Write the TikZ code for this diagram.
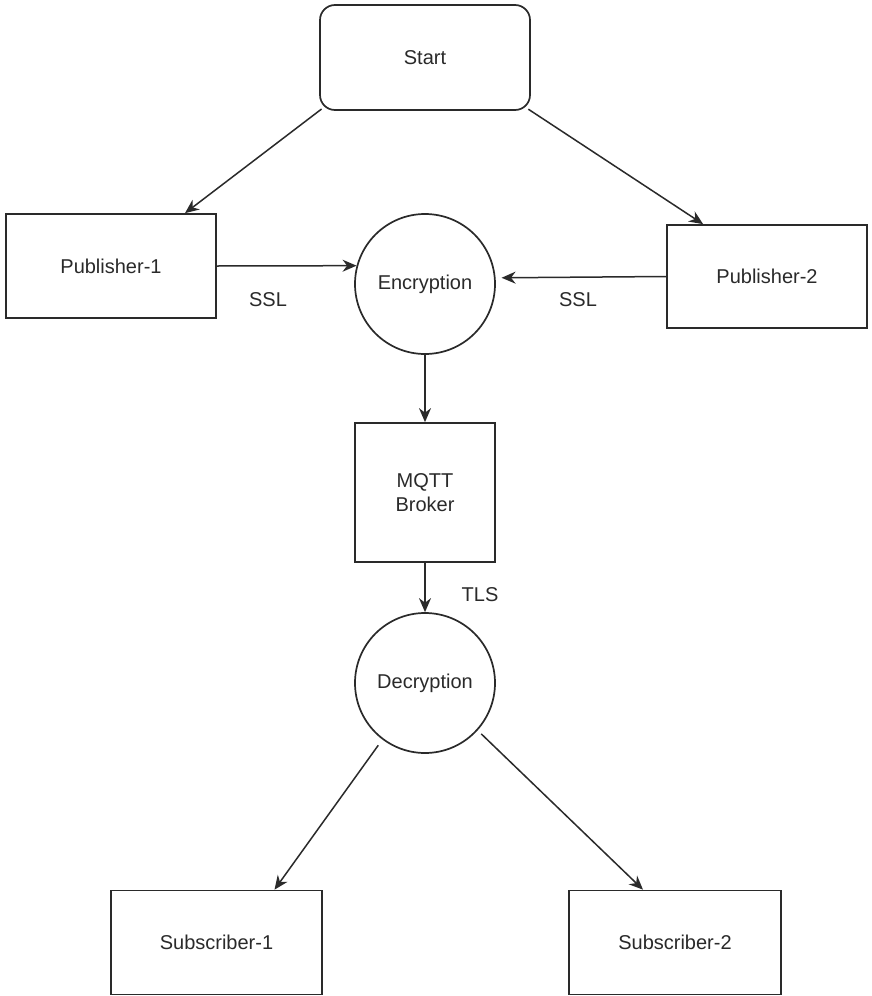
\documentclass[tikz,border=0pt]{standalone}
\usepackage{fontspec}
\setmainfont{Liberation Sans}
\usetikzlibrary{arrows.meta,calc}
\definecolor{ink}{HTML}{2A2A2A}
\tikzset{
  box/.style={draw=ink, line width=1.7pt, rectangle, fill=white, text=ink, font=\fontsize{20}{24}\selectfont, align=center, inner sep=0pt},
  roundbox/.style={box, rounded corners=15pt},
  circ/.style={draw=ink, line width=1.7pt, circle, minimum size=140pt, text=ink, font=\fontsize{20}{24}\selectfont, inner sep=0pt},
  conn/.style={draw=ink, line width=1.5pt, -{Stealth[length=14pt,width=12pt]}},
  lbl/.style={text=ink, font=\fontsize{20}{24}\selectfont}
}
\begin{document}
\begin{tikzpicture}[x=1pt,y=-1pt]
\fill[white] (0,0) rectangle (871,996);
\useasboundingbox (0,0) rectangle (871,996);
\node[roundbox, minimum width=210pt, minimum height=105pt] (start) at (425,57.5) {Start};
\node[box, minimum width=210pt, minimum height=104pt] (p1) at (111,266) {Publisher-1};
\node[box, minimum width=200pt, minimum height=103pt] (p2) at (767,276.5) {Publisher-2};
\node[circ] (enc) at (425,284) {Encryption};
\node[box, minimum width=140pt, minimum height=139pt] (mqtt) at (425,492.5) {MQTT\\Broker};
\node[circ] (dec) at (425,683) {Decryption};
\node[box, minimum width=211pt, minimum height=104pt] (s1) at (216.5,942.5) {Subscriber-1};
\node[box, minimum width=212pt, minimum height=104pt] (s2) at (675,942.5) {Subscriber-2};
\node[lbl] (ssl1) at (268,300) {SSL};
\node[lbl] (ssl2) at (578,300) {SSL};
\node[lbl] (tls) at (480,595) {TLS};
\draw[conn, shorten <=-3pt] (start.south west) -- ($(p1.north)+(74,0)$);
\draw[conn, shorten <=-3pt] (start.south east) -- ($(p2.north west)+(37,0)$);
\draw[conn] (p1.east) -- (enc.165);
\draw[conn, shorten >=6pt] (p2.west) -- (enc.5.7);
\draw[conn] (enc.south) -- (mqtt.north);
\draw[conn] (mqtt.south) -- (dec.north);
\draw[conn, shorten <=7pt] (dec.233) -- ($(s1.north)+(58,0)$);
\draw[conn, shorten <=5pt] (dec.-42) -- ($(s2.north)+(-32,0)$);
\end{tikzpicture}
\end{document}
